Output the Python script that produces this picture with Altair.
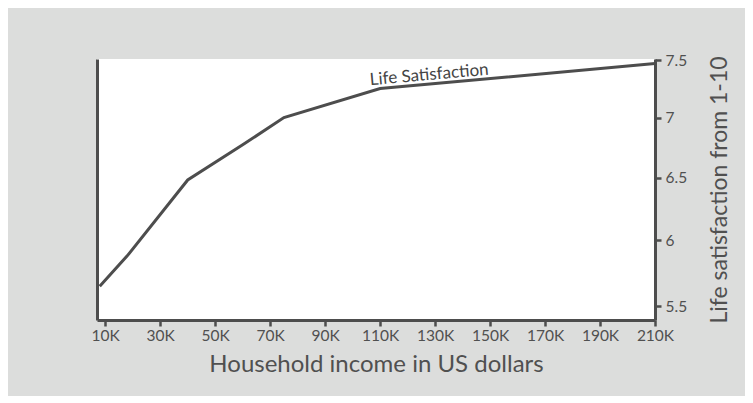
import altair as alt
import pandas as pd

income_k = [8, 18, 40, 60, 75, 110, 210]
satisfaction = [5.65, 5.88, 6.48, 6.77, 7.0, 7.25, 7.47]
x_ticks = [10, 30, 50, 70, 90, 110, 130, 150, 170, 190, 210]
y_ticks = [5.5, 6, 6.5, 7, 7.5]
label_text = ["Life Satisfaction"]
label_x = [128]
label_y = [7.325]

df = pd.DataFrame({"income": income_k, "sat": satisfaction})
lab = pd.DataFrame({"income": label_x, "sat": label_y, "text": label_text})

FONT = "Lato"
DARK = "#4d4d4d"
TXT = "#505050"

xscale = alt.Scale(domain=[7, 210], nice=False, zero=False)
yscale = alt.Scale(type="pow", exponent=0.4, domain=[5.4, 7.51], nice=False, zero=False)

xaxis = alt.Axis(values=x_ticks, labelExpr="datum.value + 'K'", title="Household income in US dollars",
                 domainColor=DARK, domainWidth=3, tickColor=DARK, tickWidth=2.5, tickSize=6,
                 labelFont=FONT, labelFontSize=15.5, labelColor=TXT, labelPadding=2,
                 labelOverlap=False, labelFlush=False,
                 titleFont=FONT, titleFontSize=24, titleFontWeight="normal", titleColor=TXT,
                 titlePadding=9, grid=False)

left_axis = alt.Axis(orient="left", labels=False, ticks=False, title=None, domainColor=DARK,
                     domainWidth=3, grid=False)
right_axis = alt.Axis(orient="right", values=y_ticks, labelExpr="format(datum.value, '~g')",
                      title="Life satisfaction from 1-10", titleAngle=270, titleBaseline="top",
                      domainColor=DARK, domainWidth=3, tickColor=DARK, tickWidth=2.5, tickSize=6,
                      labelFont=FONT, labelFontSize=15.5, labelColor=TXT, labelPadding=4,
                      labelOverlap=False, labelFlush=False,
                      titleFont=FONT, titleFontSize=23, titleFontWeight="normal", titleColor=TXT,
                      titlePadding=22, grid=False)

line_left = alt.Chart(df).mark_line(color=DARK, strokeWidth=3, opacity=0).encode(
    x=alt.X("income:Q", scale=xscale, axis=xaxis),
    y=alt.Y("sat:Q", scale=yscale, axis=left_axis),
)
line = alt.Chart(df).mark_line(color=DARK, strokeWidth=3).encode(
    x=alt.X("income:Q", scale=xscale, axis=xaxis),
    y=alt.Y("sat:Q", scale=yscale, axis=right_axis),
)
text = alt.Chart(lab).mark_text(font=FONT, fontSize=17, color="#444444", angle=355,
                                baseline="alphabetic", align="center").encode(
    x=alt.X("income:Q", scale=xscale, axis=xaxis),
    y=alt.Y("sat:Q", scale=yscale, axis=None),
    text="text:N",
)

chart = alt.layer(line_left, line, text).resolve_axis(y="independent").properties(
    width=558, height=261,
    background="#dcdddc",
    padding={"left": 89, "top": 51, "right": 90, "bottom": 76},
    autosize=alt.AutoSizeParams(type="none"),
).configure_view(fill="white", stroke=None)

chart.save("out.html", embed_options={"renderer": "svg", "actions": False})
